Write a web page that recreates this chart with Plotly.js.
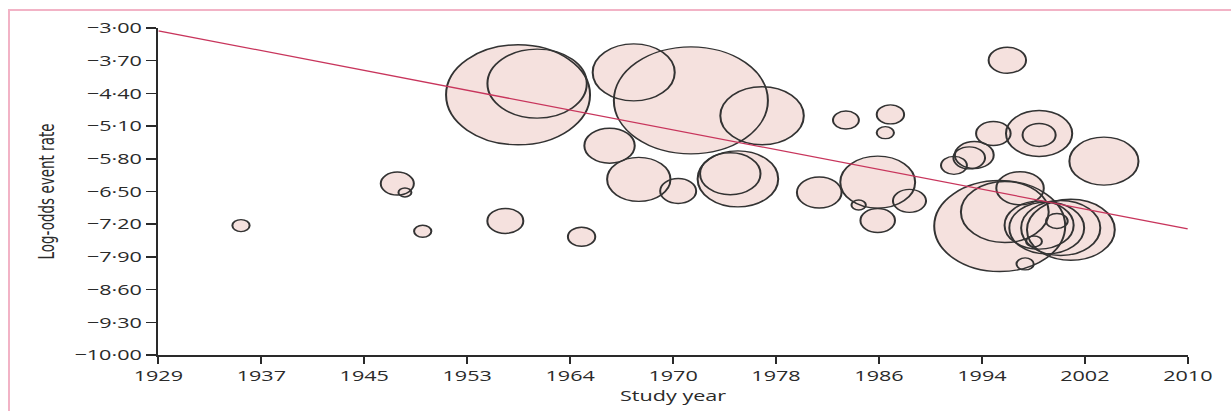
<!DOCTYPE html>
<html>
<head>
<meta charset="utf-8">
<script src="https://cdn.plot.ly/plotly-3.0.1.min.js"></script>
<style>
html,body{margin:0;padding:0;background:#fff;overflow:hidden}
#stage{position:relative;width:1231px;height:411px;overflow:hidden;background:#fff}
#chart{position:absolute;left:0;top:0;width:855px;height:411px;transform:scaleX(1.43977);transform-origin:0 0}
#frame{position:absolute;left:8px;top:9px;width:1300px;height:600px;border-top:2px solid #f2b3c6;border-left:2px solid #f2b3c6;pointer-events:none}
</style>
</head>
<body>
<div id="stage"><div id="chart"></div><div id="frame"></div></div>
<script>
// ---- data ----
const studyYear = [1935.5, 1947.8, 1948.4, 1949.8, 1956.3, 1957.3, 1958.8, 1962.3, 1964.5, 1966.4,
                   1966.8, 1969.9, 1970.9, 1974.0, 1974.6, 1976.5, 1981.0, 1983.1, 1984.1, 1985.6,
                   1985.6, 1986.2, 1986.6, 1988.1, 1991.6, 1992.8, 1993.2, 1994.7, 1995.2, 1995.6,
                   1995.8, 1996.8, 1997.2, 1997.9, 1998.3, 1998.3, 1998.3, 1998.9, 1999.7, 2000.0,
                   2000.8, 2003.4];
const logOddsEventRate = [-7.23, -6.33, -6.52, -7.35, -7.13, -4.43, -4.19, -7.47, -5.52, -3.95,
                          -6.24, -6.49, -4.55, -6.12, -6.23, -4.88, -6.52, -4.97, -6.79, -7.12,
                          -6.30, -5.24, -4.85, -6.70, -5.94, -5.78, -5.72, -5.26, -7.24, -6.94,
                          -3.69, -6.43, -8.05, -7.57, -5.26, -5.29, -7.22, -7.28, -7.13, -7.28,
                          -7.32, -5.85];
const studyWeight = [12, 23, 9, 12, 25, 100, 69, 19, 35, 57,
                     44, 25, 107, 42, 56, 58, 31, 18, 10, 24,
                     52, 12, 19, 23, 18, 22, 27, 24, 91, 61,
                     26, 33, 12, 11, 46, 23, 48, 52, 15, 55,
                     61, 48];
const fitYear = [1929, 2010];
const fitLogOdds = [-3.06, -7.30];
const xTickLabels = ["1929", "1937", "1945", "1953", "1964", "1970", "1978", "1986", "1994", "2002", "2010"];
const yTickValues = [-3.00, -3.70, -4.40, -5.10, -5.80, -6.50, -7.20, -7.90, -8.60, -9.30, -10.00];
const yTickLabels = ["\u22123\u00b700", "\u22123\u00b770", "\u22124\u00b740", "\u22125\u00b710", "\u22125\u00b780",
                     "\u22126\u00b750", "\u22127\u00b720", "\u22127\u00b790", "\u22128\u00b760", "\u22129\u00b730",
                     "\u221210\u00b700"];

// ---- chart ----
const xMin = 1929, xMax = 2010;
const xTickValues = xTickLabels.map((_, i) => xMin + i * (xMax - xMin) / (xTickLabels.length - 1));

const fillTrace = {
  type: 'scatter', mode: 'markers', x: studyYear, y: logOddsEventRate,
  marker: {size: studyWeight, sizemode: 'diameter', color: '#f5e1de', opacity: 1, line: {width: 0}},
  hoverinfo: 'x+y', showlegend: false
};
const outlineTrace = {
  type: 'scatter', mode: 'markers', x: studyYear, y: logOddsEventRate,
  marker: {size: studyWeight, sizemode: 'diameter', color: 'rgba(0,0,0,0)', opacity: 1, line: {width: 1.4, color: '#333333'}},
  hoverinfo: 'skip', showlegend: false
};
const fitTrace = {
  type: 'scatter', mode: 'lines', x: fitYear, y: fitLogOdds,
  line: {color: '#c8355c', width: 1.3}, hoverinfo: 'skip', showlegend: false
};

const tickFont = {family: 'Open Sans, DejaVu Sans, sans-serif', size: 15, color: '#2a2a2a'};
const layout = {
  width: 855, height: 411,
  margin: {l: 110, r: 30, t: 28, b: 56},
  paper_bgcolor: 'rgba(0,0,0,0)', plot_bgcolor: 'rgba(0,0,0,0)',
  showlegend: false,
  xaxis: {
    range: [xMin, xMax], tickvals: xTickValues, ticktext: xTickLabels,
    showgrid: false, zeroline: false, showline: true, linecolor: '#2a2a2a', linewidth: 1.5,
    ticks: 'outside', ticklen: 7, tickwidth: 1.5, tickcolor: '#2a2a2a',
    tickfont: tickFont,
    title: {text: 'Study year', font: {family: 'Open Sans, DejaVu Sans, sans-serif', size: 15, color: '#2a2a2a'}, standoff: 6}
  },
  yaxis: {
    range: [-10, -3], tickvals: yTickValues, ticktext: yTickLabels,
    showgrid: false, zeroline: false, showline: true, linecolor: '#2a2a2a', linewidth: 1.5,
    ticks: 'outside', ticklen: 7, tickwidth: 1.5, tickcolor: '#2a2a2a',
    tickfont: tickFont,
    title: {text: 'Log-odds event rate', font: {family: 'Liberation Sans Narrow, DejaVu Sans Condensed, Roboto, sans-serif', size: 15, color: '#2a2a2a'}, standoff: 10}
  }
};

Plotly.newPlot('chart', [fillTrace, outlineTrace, fitTrace], layout, {displayModeBar: false, staticPlot: true});
</script>
</body>
</html>
